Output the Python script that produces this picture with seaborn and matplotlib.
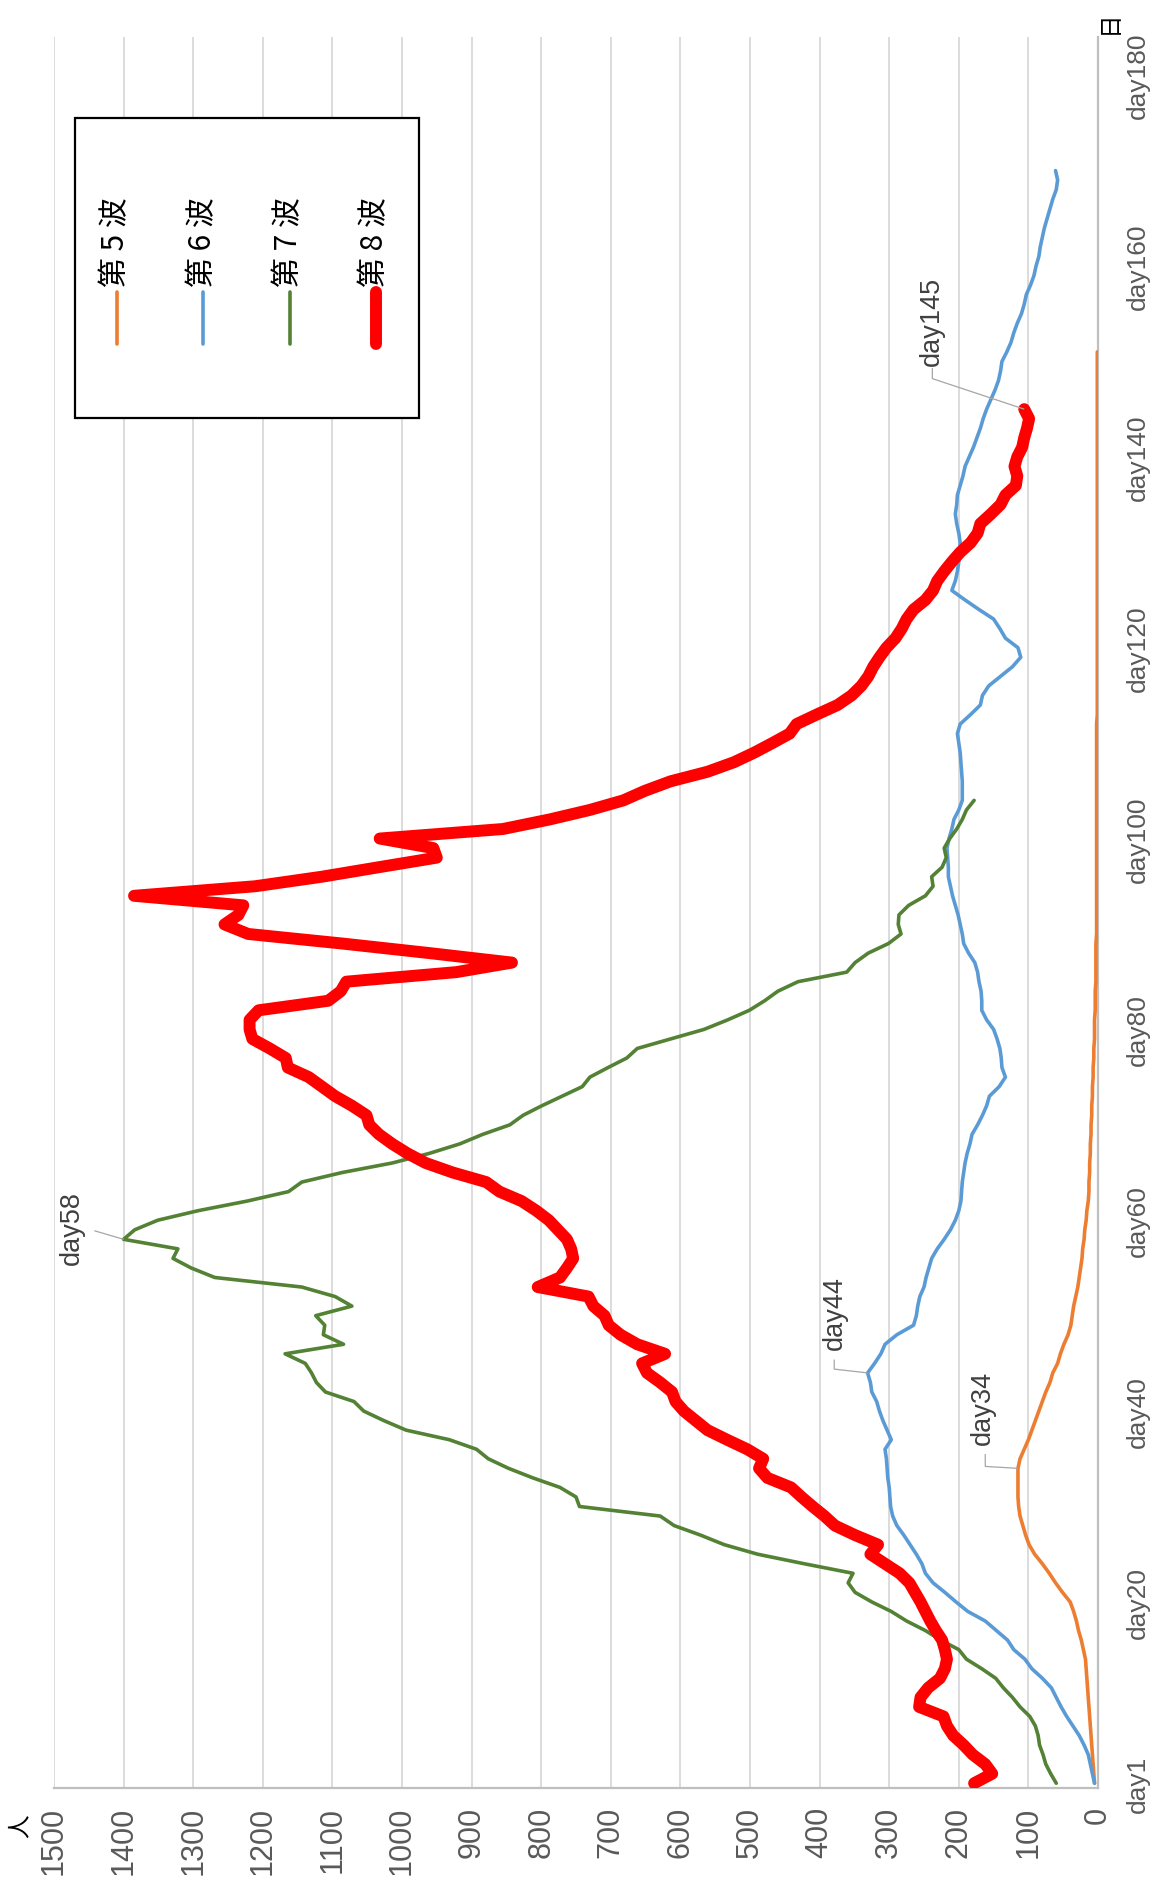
import numpy as np
import pandas as pd
import matplotlib
matplotlib.use("Agg")
import matplotlib.pyplot as plt
import seaborn as sns
from matplotlib.lines import Line2D
from matplotlib.patches import Rectangle

# ---------------- data ----------------
wave_names = ["第 5 波", "第 6 波", "第 7 波", "第 8 波"]

wave5 = [5, 6, 7, 8, 9, 10, 11, 12, 13, 14,
         15, 16, 17, 18, 21, 24, 28, 31, 35, 40,
         51, 61, 70, 80, 91, 99, 104, 108, 112, 114,
         115, 115, 115, 115, 112, 106, 100, 95, 90, 85,
         80, 75, 69, 65, 58, 54, 49, 43, 39, 37,
         35, 32, 29, 27, 25, 23, 22, 20, 19, 17,
         16, 14, 13, 13, 12, 12, 11, 11, 10, 10,
         9, 9, 8, 8, 7, 7, 6, 6, 5, 5,
         5, 4, 4, 4, 3, 3, 3, 3, 3, 2,
         2, 2, 2, 2, 2, 2, 2, 2, 2, 2,
         2, 2, 2, 2, 2, 2, 2, 2, 2, 2,
         2, 2, 1, 1, 1, 1, 1, 1, 1, 1,
         1, 1, 1, 1, 1, 1, 1, 1, 1, 1,
         1, 1, 1, 1, 1, 1, 1, 1, 1, 1,
         1, 1, 1, 1, 1, 1, 1, 1, 1, 1, 1]

wave6 = [5, 8, 11, 14, 20, 27, 36, 45, 53, 60,
         67, 80, 95, 105, 121, 130, 146, 162, 187, 204,
         220, 237, 248, 253, 261, 270, 279, 289, 295, 298,
         299, 300, 302, 303, 304, 306, 297, 303, 309, 314,
         318, 325, 327, 331, 321, 312, 306, 289, 265, 261,
         259, 256, 250, 247, 243, 239, 231, 221, 212, 205,
         200, 197, 196, 195, 193, 191, 188, 184, 181, 173,
         166, 160, 156, 142, 133, 138, 139, 141, 145, 150,
         160, 167, 167, 168, 171, 173, 177, 186, 193, 195,
         198, 201, 205, 209, 212, 215, 215, 216, 217, 214,
         210, 207, 200, 195, 195, 195, 196, 197, 198, 200,
         202, 198, 183, 169, 166, 157, 140, 123, 111, 115,
         133, 141, 150, 171, 191, 210, 205, 202, 200, 199,
         198, 200, 203, 205, 203, 202, 198, 194, 191, 185,
         179, 174, 169, 165, 160, 154, 148, 143, 140, 138,
         131, 125, 121, 116, 110, 106, 103, 97, 92, 89,
         85, 83, 80, 77, 73, 69, 65, 60, 58, 61]

wave7 = [60, 68, 75, 79, 84, 86, 90, 98, 112, 123,
         136, 147, 167, 189, 200, 226, 248, 275, 297, 325,
         349, 359, 352, 422, 489, 537, 571, 609, 629, 745,
         750, 773, 812, 847, 876, 893, 932, 994, 1026, 1055,
         1069, 1110, 1123, 1130, 1139, 1168, 1084, 1113, 1111, 1124,
         1072, 1096, 1144, 1269, 1303, 1329, 1322, 1400, 1384, 1351,
         1293, 1223, 1163, 1144, 1086, 1014, 961, 917, 884, 845,
         826, 799, 770, 741, 730, 704, 677, 662, 614, 566,
         532, 501, 479, 460, 431, 361, 349, 330, 301, 283,
         287, 286, 272, 248, 237, 239, 224, 218, 221, 213,
         203, 195, 189, 178]

wave8 = [178, 152, 162, 180, 193, 208, 217, 222, 257, 255,
         244, 227, 220, 217, 220, 224, 233, 241, 248, 255,
         263, 271, 285, 306, 327, 316, 349, 378, 393, 410,
         426, 441, 475, 487, 481, 504, 533, 561, 578, 595,
         607, 612, 629, 648, 655, 622, 662, 686, 703, 709,
         725, 732, 805, 773, 763, 754, 757, 763, 776, 789,
         807, 828, 860, 879, 927, 966, 992, 1014, 1033, 1047,
         1051, 1072, 1096, 1115, 1134, 1164, 1167, 1190, 1215, 1219,
         1219, 1206, 1106, 1088, 1080, 922, 842, 961, 1086, 1221,
         1255, 1235, 1228, 1385, 1211, 1115, 1033, 950, 955, 1032,
         855, 788, 730, 682, 651, 614, 561, 523, 494, 468,
         443, 433, 404, 374, 354, 340, 330, 323, 314, 304,
         291, 282, 275, 265, 248, 237, 231, 221, 210, 198,
         183, 173, 169, 154, 140, 133, 118, 116, 120, 116,
         109, 106, 102, 99, 106]

value_ticks = list(range(0, 1501, 100))
day_ticks = [1, 20, 40, 60, 80, 100, 120, 140, 160, 180]
day_tick_labels = ["day1", "day20", "day40", "day60", "day80",
                   "day100", "day120", "day140", "day160", "day180"]

# callouts: (text, wave index, day)
callout_text = ["day58", "day44", "day34", "day145"]
callout_wave = [2, 1, 0, 3]
callout_day = [58, 44, 34, 145]

# ---------------- style ----------------
colors = ["#ED7D31", "#5B9BD5", "#548235", "#FF0000"]
widths = [2.6, 2.6, 2.6, 8.6]
CJK = ["Noto Sans CJK JP", "DejaVu Sans"]
LAT = ["Liberation Sans", "DejaVu Sans"]

sns.set_style("white")
plt.rcParams["font.family"] = LAT

W, H = 1156, 1899
fig = plt.figure(figsize=(W / 100, H / 100), dpi=100)
ax = fig.add_axes([54 / W, 1 - 1789 / H, (1098 - 54) / W, (1789 - 38) / H])

series = [wave5, wave6, wave7, wave8]
frames = []
for name, vals in zip(wave_names, series):
    frames.append(pd.DataFrame({"wave": name,
                                "day": np.arange(1, len(vals) + 1),
                                "value": vals}))
df = pd.concat(frames, ignore_index=True)

for i, name in enumerate(wave_names):
    sub = df[df["wave"] == name]
    sns.lineplot(data=sub, x="value", y="day", sort=False, estimator=None,
                 color=colors[i], linewidth=widths[i], ax=ax,
                 solid_capstyle="round", solid_joinstyle="round",
                 zorder=3 + i, legend=False)

ax.set_xlim(1500, 0)
ax.set_ylim(0.5, 184)
ax.set_xlabel("")
ax.set_ylabel("")

ax.set_xticks(value_ticks)
ax.set_xticklabels([str(v) for v in value_ticks], rotation=90,
                   fontsize=22, color="#595959")
ax.yaxis.tick_right()
ax.set_yticks(day_ticks)
ax.set_yticklabels(day_tick_labels, rotation=90, va="center",
                   fontsize=19, color="#595959")
ax.tick_params(axis="x", length=0, pad=13)
ax.tick_params(axis="y", length=0, pad=20)

ax.grid(axis="x", color="#D9D9D9", linewidth=1.3, zorder=0)
ax.grid(axis="y", visible=False)
for s in ["left", "top"]:
    ax.spines[s].set_visible(False)
for s in ["right", "bottom"]:
    ax.spines[s].set_color("#BFBFBF")
    ax.spines[s].set_linewidth(1.6)

# ---------------- callouts ----------------
label_pos = {"day58": (1475, 59.3), "day44": (378, 50.4),
             "day34": (165, 40.4), "day145": (238, 154.3)}
leader_from = {"day58": [(1442, 58.9)],
               "day44": [(379, 45.4), (379, 44.4)],
               "day34": [(162, 35.5), (162, 34.2)],
               "day145": [(238, 149.3), (238, 148.2)]}
for txt, wi, d in zip(callout_text, callout_wave, callout_day):
    v = series[wi][d - 1]
    pts = leader_from[txt] + [(v, d)]
    ax.plot([p[0] for p in pts], [p[1] for p in pts], color="#A6A6A6",
            linewidth=0.9, zorder=8, solid_capstyle="butt")
    x, y = label_pos[txt]
    ax.text(x, y, txt, rotation=90, ha="center", va="center",
            fontsize=19.5, color="#404040", zorder=9)

# ---------------- legend (rotated) ----------------
def fx(px):
    return px / W


def fy(py):
    return 1 - py / H


fig.add_artist(Rectangle((fx(75), fy(419)), fx(419) - fx(75), fy(119) - fy(419),
                         transform=fig.transFigure, facecolor="white",
                         edgecolor="black", linewidth=1.6, zorder=10))
for i, name in enumerate(wave_names):
    x = 117 + 86.3 * i
    fig.add_artist(Line2D([fx(x), fx(x)], [fy(345), fy(293)],
                          transform=fig.transFigure, color=colors[i],
                          linewidth=widths[i], solid_capstyle="round",
                          zorder=11))
    fig.text(fx(x - 1), fy(287), name, rotation=90, rotation_mode="anchor",
             ha="left", va="center", fontsize=21.5, color="black",
             family=CJK, zorder=12)

# axis unit labels
fig.text(fx(20), fy(1826), "人", rotation=90, rotation_mode="anchor",
         ha="center", va="center", fontsize=17, color="black", family=CJK)
fig.text(fx(1109), fy(22), "日", rotation=90, rotation_mode="anchor",
         ha="center", va="center", fontsize=17, color="black", family=CJK)

fig.savefig("out.png", dpi=100, facecolor="white")
